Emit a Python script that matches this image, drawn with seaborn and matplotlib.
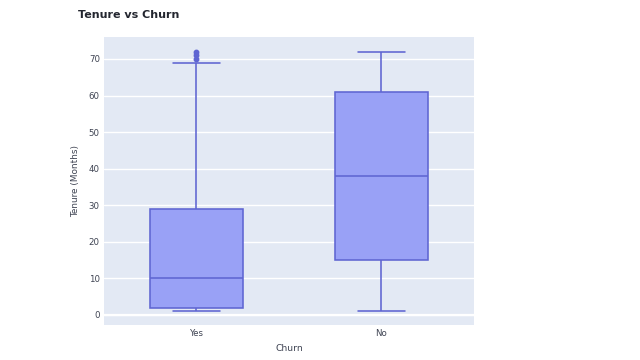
import pandas as pd
import matplotlib
matplotlib.use("Agg")
import matplotlib.pyplot as plt
import seaborn as sns

# sample tenure values per churn group (picked so the box stats match the chart)
churn_labels = ["Yes", "No"]
tenure_yes = [1, 1, 1, 2, 2, 4, 6, 8, 10, 14, 18, 24, 29, 69, 70, 71, 72]
tenure_no = [1, 8, 15, 30, 38, 50, 61, 68, 72]

df = pd.DataFrame({
    "Churn": ["Yes"] * len(tenure_yes) + ["No"] * len(tenure_no),
    "Tenure": tenure_yes + tenure_no,
})

sns.set_style("white")
plt.rcParams["font.family"] = ["DejaVu Sans"]

line_col = "#5f65d2"
fill_col = "#99a1f6"
text_col = "#3e4352"

fig = plt.figure(figsize=(6.4, 3.6), dpi=100)
ax = fig.add_axes([0.1625, 0.0972, 0.578, 0.8])
ax.set_facecolor("#e3e9f4")

sns.boxplot(data=df, x="Churn", y="Tenure", order=churn_labels, ax=ax,
            width=0.5, saturation=1, color=fill_col, linecolor=line_col,
            linewidth=1.15, fliersize=3.2,
            flierprops=dict(marker="o", markerfacecolor=line_col,
                            markeredgecolor=line_col))

ax.set_ylim(-2.75, 76)
ax.set_xlim(-0.5, 1.5)
ax.set_yticks(range(0, 71, 10))
ax.yaxis.grid(True, color="white", linewidth=1)
ax.axhline(0, color="white", linewidth=1.6, zorder=0.5)
ax.set_axisbelow(True)
for s in ax.spines.values():
    s.set_visible(False)
ax.tick_params(length=0, labelsize=6.2, labelcolor=text_col, pad=3)
ax.set_xlabel("Churn", fontsize=6.6, color=text_col, labelpad=4)
ax.set_ylabel("Tenure (Months)", fontsize=6.4, color=text_col, labelpad=6)

fig.text(0.122, 0.958, "Tenure vs Churn", fontsize=8, fontweight="bold",
         color="#23262f", va="center", ha="left")

fig.savefig("out.png", dpi=100)
